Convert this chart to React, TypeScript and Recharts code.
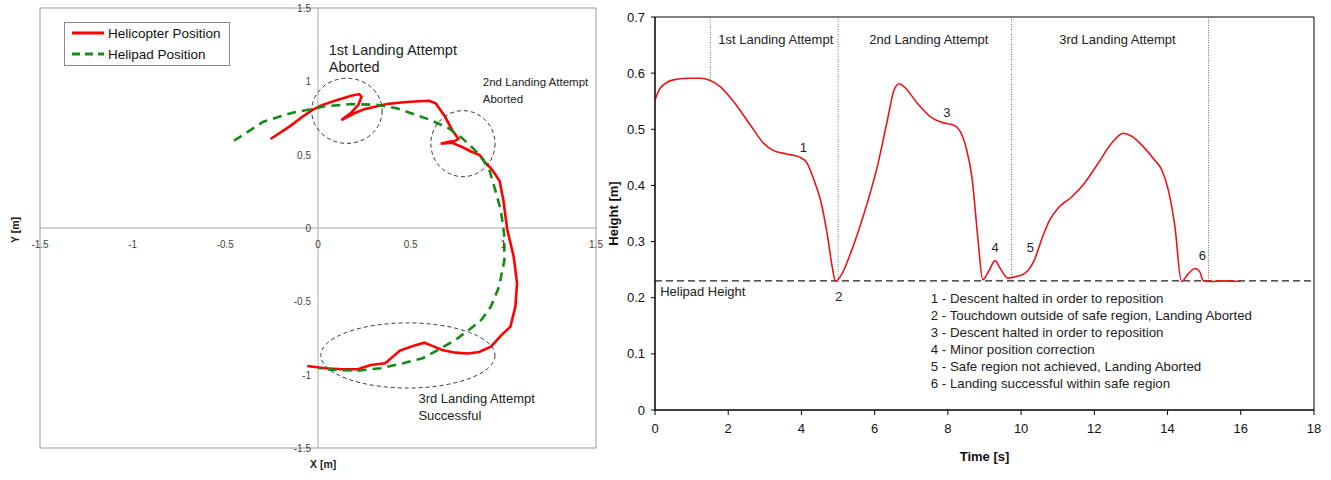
import React from 'react';
import {
  LineChart,
  Line,
  XAxis,
  YAxis,
  ReferenceLine,
  ReferenceArea,
  ReferenceDot,
  Legend,
} from 'recharts';

const FONT = '"Liberation Sans", Arial, Helvetica, sans-serif';

// ---------- left panel: plan view [m] ----------
const helicopterTrack = [
  { x: -0.256, y: 0.607 }, { x: -0.154, y: 0.691 }, { x: -0.084, y: 0.759 },
  { x: -0.032, y: 0.804 }, { x: 0.021, y: 0.838 }, { x: 0.091, y: 0.868 },
  { x: 0.179, y: 0.902 }, { x: 0.223, y: 0.913 }, { x: 0.235, y: 0.895 },
  { x: 0.217, y: 0.838 }, { x: 0.179, y: 0.786 }, { x: 0.126, y: 0.736 },
  { x: 0.196, y: 0.782 }, { x: 0.249, y: 0.809 }, { x: 0.372, y: 0.845 },
  { x: 0.477, y: 0.859 }, { x: 0.547, y: 0.864 }, { x: 0.6, y: 0.868 },
  { x: 0.635, y: 0.85 }, { x: 0.685, y: 0.76 }, { x: 0.725, y: 0.665 },
  { x: 0.758, y: 0.608 }, { x: 0.737, y: 0.593 }, { x: 0.705, y: 0.588 },
  { x: 0.662, y: 0.575 }, { x: 0.723, y: 0.581 }, { x: 0.775, y: 0.554 },
  { x: 0.828, y: 0.52 }, { x: 0.872, y: 0.498 }, { x: 0.898, y: 0.452 },
  { x: 0.933, y: 0.407 }, { x: 0.959, y: 0.361 }, { x: 0.98, y: 0.32 },
  { x: 1.0, y: 0.19 }, { x: 1.021, y: -0.01 }, { x: 1.056, y: -0.196 },
  { x: 1.074, y: -0.377 }, { x: 1.065, y: -0.536 }, { x: 1.038, y: -0.673 },
  { x: 0.99, y: -0.73 }, { x: 0.933, y: -0.809 }, { x: 0.87, y: -0.845 },
  { x: 0.811, y: -0.856 }, { x: 0.741, y: -0.85 }, { x: 0.67, y: -0.832 },
  { x: 0.617, y: -0.804 }, { x: 0.574, y: -0.782 }, { x: 0.512, y: -0.804 },
  { x: 0.442, y: -0.836 }, { x: 0.363, y: -0.922 }, { x: 0.284, y: -0.934 },
  { x: 0.214, y: -0.963 }, { x: 0.126, y: -0.963 }, { x: 0.038, y: -0.956 },
  { x: -0.058, y: -0.941 },
];

const helipadTrack = [
  { x: -0.453, y: 0.595 }, { x: -0.295, y: 0.725 }, { x: -0.137, y: 0.786 },
  { x: -0.032, y: 0.812 }, { x: 0.037, y: 0.83 }, { x: 0.179, y: 0.845 },
  { x: 0.32, y: 0.84 }, { x: 0.43, y: 0.815 }, { x: 0.53, y: 0.77 },
  { x: 0.6, y: 0.74 }, { x: 0.705, y: 0.68 }, { x: 0.775, y: 0.616 },
  { x: 0.837, y: 0.543 }, { x: 0.881, y: 0.486 }, { x: 0.925, y: 0.395 },
  { x: 0.951, y: 0.282 }, { x: 0.986, y: 0.123 }, { x: 1.004, y: -0.036 },
  { x: 1.006, y: -0.218 }, { x: 0.977, y: -0.4 }, { x: 0.933, y: -0.536 },
  { x: 0.881, y: -0.627 }, { x: 0.819, y: -0.69 }, { x: 0.741, y: -0.763 },
  { x: 0.653, y: -0.827 }, { x: 0.565, y: -0.888 }, { x: 0.46, y: -0.922 },
  { x: 0.337, y: -0.956 }, { x: 0.214, y: -0.973 }, { x: 0.091, y: -0.968 },
  { x: 0.004, y: -0.956 },
];

const planTicks = [-1.5, -1, -0.5, 0, 0.5, 1, 1.5];

const planSeries = [
  { name: 'Helicopter Position', data: helicopterTrack, color: '#ff0000', dash: undefined },
  { name: 'Helipad Position', data: helipadTrack, color: '#158a15', dash: '9 6' },
];

// dashed rings drawn round each landing attempt (centre and radii in metres)
const attemptRings = [
  { cx: 0.156, cy: 0.799, rx: 0.19, ry: 0.222 },
  { cx: 0.782, cy: 0.575, rx: 0.173, ry: 0.225 },
  { cx: 0.485, cy: -0.869, rx: 0.47, ry: 0.222 },
];

const planNotes = [
  { x: 0.058, y: 1.213, lines: ['1st Landing Attempt', 'Aborted'], size: 14.5 },
  { x: 0.889, y: 0.995, lines: ['2nd Landing Attempt', 'Aborted'], size: 11.5 },
  { x: 0.542, y: -1.159, lines: ['3rd Landing Attempt', 'Successful'], size: 13 },
];

// ---------- right panel: height over time ----------
const timeS = [
  0, 0.14, 0.5, 0.87, 1.23, 1.51, 1.78, 2.15, 2.6, 2.97, 3.24, 3.61, 3.97, 4.16,
  4.34, 4.52, 4.7, 4.84, 4.93, 5.11, 5.34, 5.71, 6.07, 6.35, 6.53, 6.67, 6.8,
  7.17, 7.53, 7.9, 8.13, 8.31, 8.49, 8.66, 8.82, 8.95, 9.13, 9.29, 9.43, 9.64,
  9.82, 10.09, 10.36, 10.59, 10.78, 11.0, 11.37, 11.73, 12.1, 12.47, 12.79,
  13.01, 13.38, 13.65, 13.84, 14.02, 14.2, 14.38, 14.57, 14.75, 14.88, 14.98,
  15.2, 15.6, 16.0,
];
const heightM = [
  0.552, 0.573, 0.588, 0.591, 0.591, 0.587, 0.576, 0.549, 0.508, 0.475, 0.462,
  0.456, 0.45, 0.439, 0.41, 0.374, 0.315, 0.255, 0.229, 0.243, 0.279, 0.35,
  0.433, 0.517, 0.57, 0.581, 0.576, 0.546, 0.522, 0.511, 0.508, 0.499, 0.469,
  0.413, 0.305, 0.232, 0.249, 0.266, 0.252, 0.235, 0.237, 0.243, 0.267, 0.309,
  0.338, 0.359, 0.379, 0.404, 0.439, 0.475, 0.493, 0.488, 0.466, 0.445, 0.428,
  0.392, 0.327, 0.229, 0.243, 0.252, 0.246, 0.23, 0.229, 0.23, 0.229,
];

const timeTicks = [0, 2, 4, 6, 8, 10, 12, 14, 16, 18];
const heightTicks = [0, 0.1, 0.2, 0.3, 0.4, 0.5, 0.6, 0.7];
const HELIPAD_HEIGHT = 0.23;

const attemptBounds = [
  { t: 1.51, from: 0.587 },
  { t: 5.0, from: 0.232 },
  { t: 9.74, from: 0.236 },
  { t: 15.12, from: 0.23 },
];
const attemptLabels = [
  { t: 3.3, text: '1st Landing Attempt' },
  { t: 7.48, text: '2nd Landing Attempt' },
  { t: 12.63, text: '3rd Landing Attempt' },
];
const eventMarks = [
  { id: '1', t: 4.05, h: 0.468 },
  { id: '2', t: 5.02, h: 0.202 },
  { id: '3', t: 7.97, h: 0.531 },
  { id: '4', t: 9.29, h: 0.29 },
  { id: '5', t: 10.25, h: 0.29 },
  { id: '6', t: 14.95, h: 0.275 },
];
const eventNotes = [
  '1 - Descent halted in order to reposition',
  '2 - Touchdown outside of safe region, Landing Aborted',
  '3 - Descent halted in order to reposition',
  '4 - Minor position correction',
  '5 - Safe region not achieved, Landing Aborted',
  '6 - Landing successful within safe region',
];

const heightData = timeS.map((t, i) => ({ t, h: heightM[i] }));

// ---------- layout ----------
const PLAN_W = 620;
const PLAN_H = 480;
const planMargin = { top: 8, right: 24, bottom: 32, left: 40 };
const pxPerMX = (PLAN_W - planMargin.left - planMargin.right) / 3;
const pxPerMY = (PLAN_H - planMargin.top - planMargin.bottom) / 3;

const PlanLegend = () => (
  <div
    style={{
      width: 166,
      height: 44,
      border: '1px solid #8a8a8a',
      boxSizing: 'border-box',
      background: '#fff',
    }}
  >
    <svg width={164} height={42}>
      {planSeries.map((s, i) => (
        <g key={s.name}>
          <line
            x1={7}
            x2={39}
            y1={10 + i * 21}
            y2={10 + i * 21}
            stroke={s.color}
            strokeWidth={3}
            strokeDasharray={s.dash ? '8 5' : undefined}
          />
          <text
            x={43}
            y={10 + i * 21 + 5}
            fontSize={13.5}
            fontFamily={FONT}
            fill="#111"
          >
            {s.name}
          </text>
        </g>
      ))}
    </svg>
  </div>
);

const PlanView = () => (
  <LineChart width={PLAN_W} height={PLAN_H} margin={planMargin}>
    <XAxis dataKey="x" type="number" domain={[-1.5, 1.5]} hide />
    <YAxis type="number" domain={[-1.5, 1.5]} hide />
    <ReferenceArea x1={-1.5} x2={1.5} y1={-1.5} y2={1.5} fill="none" stroke="#9a9a9a" />
    <ReferenceLine x={0} stroke="#a8a8a8" />
    <ReferenceLine y={0} stroke="#a8a8a8" />
    {planTicks.map((v) => (
      <ReferenceDot
        key={`xt${v}`}
        x={v}
        y={0}
        r={0}
        shape={(p: any) => (
          <text x={p.cx} y={p.cy + 20} textAnchor="middle" fontSize={10} fontFamily={FONT} fill="#444">
            {v}
          </text>
        )}
      />
    ))}
    {planTicks.map((v) => (
      <ReferenceDot
        key={`yt${v}`}
        x={0}
        y={v}
        r={0}
        shape={(p: any) => (
          <text x={p.cx - 7} y={p.cy + 4} textAnchor="end" fontSize={10} fontFamily={FONT} fill="#444">
            {v}
          </text>
        )}
      />
    ))}
    {attemptRings.map((r, i) => (
      <ReferenceDot
        key={`ring${i}`}
        x={r.cx}
        y={r.cy}
        r={0}
        shape={(p: any) => (
          <ellipse
            cx={p.cx}
            cy={p.cy}
            rx={r.rx * pxPerMX}
            ry={r.ry * pxPerMY}
            fill="none"
            stroke="#333"
            strokeWidth={1}
            strokeDasharray="4 3"
          />
        )}
      />
    ))}
    {planNotes.map((n, i) => (
      <ReferenceDot
        key={`note${i}`}
        x={n.x}
        y={n.y}
        r={0}
        shape={(p: any) => (
          <text fontSize={n.size} fontFamily={FONT} fill="#222">
            {n.lines.map((l, j) => (
              <tspan key={j} x={p.cx} y={p.cy + n.size * 0.36 + j * 17}>
                {l}
              </tspan>
            ))}
          </text>
        )}
      />
    ))}
    {planSeries.map((s) => (
      <Line
        key={s.name}
        name={s.name}
        data={s.data}
        dataKey="y"
        type="linear"
        stroke={s.color}
        strokeWidth={2.6}
        strokeDasharray={s.dash}
        dot={false}
        isAnimationActive={false}
      />
    ))}
    <Legend
      layout="horizontal"
      verticalAlign="middle"
      align="center"
      wrapperStyle={{ left: 64, top: 22, width: 166, height: 44 }}
      content={() => <PlanLegend />}
    />
  </LineChart>
);

const HeightView = () => (
  <LineChart
    width={731}
    height={480}
    data={heightData}
    margin={{ top: 17, right: 17, bottom: 15, left: 15 }}
  >
    <XAxis
      dataKey="t"
      type="number"
      domain={[0, 18]}
      ticks={timeTicks}
      height={55}
      tickSize={5}
      tickMargin={9}
      axisLine={{ stroke: '#000' }}
      tickLine={{ stroke: '#000' }}
      tick={{ fontSize: 13, fill: '#111', fontFamily: FONT }}
      label={{
        value: 'Time [s]',
        position: 'insideBottom',
        offset: 4,
        fontSize: 13,
        fontWeight: 'bold',
        fill: '#111',
        fontFamily: FONT,
      }}
    />
    <YAxis
      type="number"
      domain={[0, 0.7]}
      ticks={heightTicks}
      width={40}
      tickSize={4}
      tickMargin={6}
      axisLine={{ stroke: '#000' }}
      tickLine={{ stroke: '#000' }}
      tick={{ fontSize: 13, fill: '#111', fontFamily: FONT }}
      label={{
        value: 'Height [m]',
        angle: -90,
        position: 'center',
        dx: -22,
        fontSize: 13,
        fontWeight: 'bold',
        fill: '#111',
        fontFamily: FONT,
      }}
    />
    <ReferenceArea x1={0} x2={18} y1={0} y2={0.7} fill="none" stroke="#000" />
    {attemptBounds.map((b) => (
      <ReferenceLine
        key={`b${b.t}`}
        segment={[{ x: b.t, y: b.from }, { x: b.t, y: 0.7 }]}
        stroke="#666"
        strokeDasharray="1 1.5"
      />
    ))}
    <ReferenceLine y={HELIPAD_HEIGHT} stroke="#222" strokeWidth={1.2} strokeDasharray="7 4" />
    {attemptLabels.map((a) => (
      <ReferenceDot
        key={a.text}
        x={a.t}
        y={0.661}
        r={0}
        shape={(p: any) => (
          <text x={p.cx} y={p.cy + 4.7} textAnchor="middle" fontSize={13} fontFamily={FONT} fill="#222">
            {a.text}
          </text>
        )}
      />
    ))}
    {eventMarks.map((m) => (
      <ReferenceDot
        key={`ev${m.id}`}
        x={m.t}
        y={m.h}
        r={0}
        shape={(p: any) => (
          <text x={p.cx} y={p.cy + 4.7} textAnchor="middle" fontSize={13} fontFamily={FONT} fill="#222">
            {m.id}
          </text>
        )}
      />
    ))}
    <ReferenceDot
      x={0.14}
      y={0.211}
      r={0}
      shape={(p: any) => (
        <text x={p.cx} y={p.cy + 4.7} fontSize={13} fontFamily={FONT} fill="#222">
          Helipad Height
        </text>
      )}
    />
    <ReferenceDot
      x={7.53}
      y={0.199}
      r={0}
      shape={(p: any) => (
        <text fontSize={13.3} fontFamily={FONT} fill="#222">
          {eventNotes.map((l, j) => (
            <tspan key={j} x={p.cx} y={p.cy + 4.8 + j * 17}>
              {l}
            </tspan>
          ))}
        </text>
      )}
    />
    <Line
      type="monotone"
      dataKey="h"
      stroke="#e8161b"
      strokeWidth={1.6}
      dot={false}
      isAnimationActive={false}
    />
  </LineChart>
);

export default function App() {
  return (
    <div
      style={{
        position: 'absolute',
        left: 0,
        top: 0,
        width: 1331,
        height: 480,
        background: '#fff',
        overflow: 'hidden',
        fontFamily: FONT,
      }}
    >
      <div style={{ position: 'absolute', left: 0, top: 0 }}>
        <PlanView />
      </div>
      <div style={{ position: 'absolute', left: 600, top: 0 }}>
        <HeightView />
      </div>
      <div
        style={{
          position: 'absolute',
          left: 310,
          top: 458,
          fontSize: 10.5,
          fontWeight: 'bold',
          color: '#222',
        }}
      >
        X [m]
      </div>
      <div
        style={{
          position: 'absolute',
          left: 2,
          top: 224,
          fontSize: 10.5,
          fontWeight: 'bold',
          color: '#222',
          transform: 'rotate(-90deg)',
        }}
      >
        Y [m]
      </div>
    </div>
  );
}
